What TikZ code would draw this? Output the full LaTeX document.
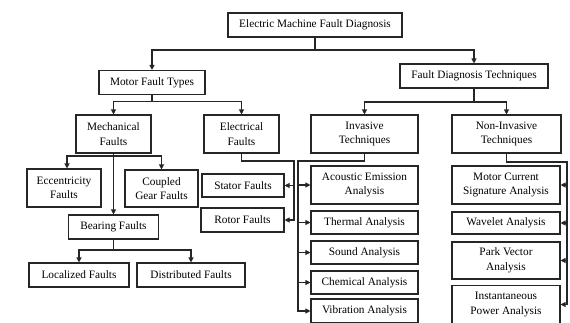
\documentclass[tikz,border=0pt]{standalone}
\usepackage{fontspec}
\setmainfont{Liberation Serif}
\usetikzlibrary{arrows.meta}

\begin{document}
\begin{tikzpicture}[x=1pt,y=-1pt,>={Triangle[length=5pt,width=5pt]},line width=1.1pt,draw=black!85]
  \tikzstyle{every node}=[font=\fontsize{11.3}{14.5}\selectfont,text=black]
  \tikzstyle{box}=[draw=black!85,rectangle,fill=white,align=center,inner sep=1pt,minimum height=24]
  \tikzstyle{tall}=[box,minimum height=38]

  \clip (0,0) rectangle (570,322);

  \node[box, minimum width=174] (EMFD) at (315,25)    {Electric Machine Fault Diagnosis};
  \node[box, minimum width=106] (MFT)  at (152,82.5)  {Motor Fault Types};
  \node[box, minimum width=148] (FDT)  at (474,76)    {Fault Diagnosis Techniques};
  \node[tall, minimum width=75] (MECH) at (113.5,134) {Mechanical\\Faults};
  \node[tall, minimum width=75] (ELEC) at (241.5,134) {Electrical\\Faults};
  \node[tall, minimum width=107] (INV) at (364.5,134) {Invasive\\Techniques};
  \node[tall, minimum width=109] (NINV) at (506.5,134) {Non-Invasive\\Techniques};
  \node[tall, minimum width=74] (ECC)  at (64,188)    {Eccentricity\\Faults};
  \node[tall, minimum width=73, minimum height=37] (GEAR) at (161.5,188.5) {Coupled\\Gear Faults};
  \node[box, minimum width=82, minimum height=23] (STAT) at (243,185.5) {Stator Faults};
  \node[box, minimum width=83] (ROT)  at (242.5,220) {Rotor Faults};
  \node[box, minimum width=90] (BEAR) at (113.5,227) {Bearing Faults};
  \node[box, minimum width=100] (LOC) at (79,275)    {Localized Faults};
  \node[box, minimum width=108] (DIST) at (191,275)  {Distributed Faults};
  \node[tall, minimum width=107] (AEA) at (364.5,185) {Acoustic Emission\\Analysis};
  \node[box, minimum width=107, minimum height=23] (THA) at (364.5,222.5) {Thermal Analysis};
  \node[box, minimum width=107, minimum height=23] (SNA) at (364.5,252.5) {Sound Analysis};
  \node[box, minimum width=107, minimum height=23] (CHA) at (364.5,282.5) {Chemical Analysis};
  \node[box, minimum width=107] (VIA)  at (364.5,311)  {Vibration Analysis};
  \node[tall, minimum width=108] (MCSA) at (506,185)   {Motor Current\\Signature Analysis};
  \node[box, minimum width=108, minimum height=22] (WAV) at (506,223) {Wavelet Analysis};
  \node[tall, minimum width=108, minimum height=37] (PVA) at (506,260.5) {Park Vector\\Analysis};
  \node[tall, minimum width=108] (IPA)  at (506,304.5) {Instantaneous\\Power Analysis};

  % bends of the connectors
  \coordinate (J0) at (315,50);
  \coordinate (J1) at (152,101.5);
  \coordinate (J2) at (474,102);
  \coordinate (J3) at (113.5,156);
  \coordinate (J4) at (113.5,250);
  \coordinate (J5) at (294,161);
  \coordinate (J6) at (298,161);
  \coordinate (J7) at (567,162);

  \draw (EMFD.south) -- (J0);
  \draw[->] (J0) -| (MFT.north);
  \draw[->] (J0) -| (FDT.north);

  \draw (MFT.south) -- (J1);
  \draw[->] (J1) -| (MECH.north);
  \draw[->] (J1) -| (ELEC.north);

  \draw (FDT.south) -- (J2);
  \draw[->] (J2) -| (INV.north);
  \draw[->] (J2) -| (NINV.north);

  \draw[->] (MECH.south) -- (BEAR.north);
  \draw[->] (J3) -| ([xshift=3pt]ECC.north);
  \draw[->] (J3) -| (GEAR.north);

  \draw (BEAR.south) -- (J4);
  \draw[->] (J4) -| (LOC.north);
  \draw[->] (J4) -| (DIST.north);

  \draw[->] (ELEC.south) |- (J5) |- (ROT.east);
  \draw[->] (J5 |- STAT.east) -- (STAT.east);

  \draw[->] (INV.south) |- (J6) |- (VIA.west);
  \foreach \n in {AEA,THA,SNA,CHA}
    \draw[->] (J6 |- \n.west) -- (\n.west);

  \draw[->] (NINV.south) |- (J7) |- (IPA.east);
  \foreach \n in {MCSA,WAV,PVA}
    \draw[->] (J7 |- \n.east) -- (\n.east);
\end{tikzpicture}
\end{document}
